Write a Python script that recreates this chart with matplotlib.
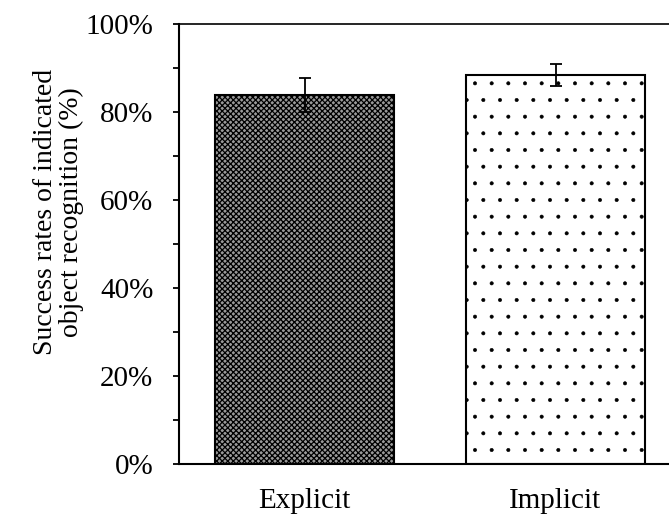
import matplotlib
matplotlib.use("Agg")
import matplotlib.pyplot as plt
import numpy as np
from matplotlib.ticker import MultipleLocator, PercentFormatter

categories = ["Explicit", "Implicit"]
values = [83.9, 88.4]
errors = [3.9, 2.5]
ylabel = "Success rates of indicated\nobject recognition (%)"

plt.rcParams['font.family'] = ['Liberation Serif', 'DejaVu Serif']
plt.rcParams['hatch.color'] = 'black'

fig = plt.figure(figsize=(6.69, 5.16), dpi=100)
ax = fig.add_axes([179/669, 52/516, 502/669, 440/516])

x = np.arange(len(categories))
hatches = ['xxxxxx', '.']
faces = ['#9a9a9a', 'white']
hatch_lw = [0.9, 0.4]
for i in range(len(categories)):
    with plt.rc_context({'hatch.linewidth': hatch_lw[i]}):
        ax.bar(x[i], values[i], width=0.713, color=faces[i], edgecolor='black',
               linewidth=1.5, hatch=hatches[i], zorder=2)
ax.errorbar(x, values, yerr=errors, fmt='none', ecolor='black',
            elinewidth=1.3, capsize=4.5, capthick=1.3, zorder=3)

ax.set_xlim(-0.5, 1.5)
ax.set_ylim(0, 100)
ax.yaxis.set_major_locator(MultipleLocator(20))
ax.yaxis.set_minor_locator(MultipleLocator(10))
ax.yaxis.set_major_formatter(PercentFormatter(decimals=0))
ax.set_xticks(x)
ax.set_xticklabels(categories)
ax.tick_params(axis='y', which='both', direction='out', length=4.5, width=1.3,
               labelsize=21, pad=14)
ax.tick_params(axis='x', length=0, labelsize=21, pad=17)
for s in ax.spines.values():
    s.set_linewidth(1.5)
ax.spines['top'].set_linewidth(1.2)

ax.set_ylabel(ylabel, fontsize=20, linespacing=1.0)
ax.yaxis.set_label_coords(-0.19, 0.573)

fig.savefig("out.png", dpi=100)
